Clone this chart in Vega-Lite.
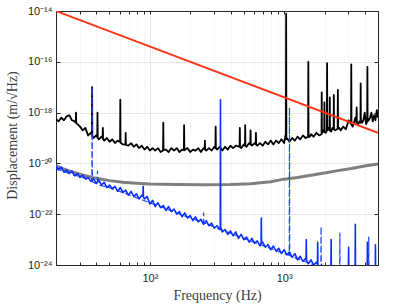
{
"$schema": "https://vega.github.io/schema/vega-lite/v6.json",
"width": 322, "height": 254,
"autosize": {"type": "none"},
"padding": {"left": 56, "top": 11, "right": 37, "bottom": 40},
"background": "white",
"datasets": {
"black": [
{"f":20,"v":5.6e-19},{"f":20.89,"v":4.5e-19},{"f":21.88,"v":6.3e-19},{"f":22.91,"v":5.0e-19},{"f":23.99,"v":7.1e-19},{"f":25.12,"v":7.9e-19},{"f":26.30,"v":5.0e-19},{"f":27.54,"v":4.5e-19},{"f":28.07,"v":4.0e-19},{"f":28.18,"v":1.0e-18},{"f":28.29,"v":4.0e-19},{"f":28.84,"v":3.5e-19},{"f":30.20,"v":2.8e-19},{"f":31.62,"v":2.0e-19},{"f":33.11,"v":2.5e-19},{"f":34.67,"v":1.26e-19},{"f":36.31,"v":1.6e-19},{"f":37.0,"v":1.3e-19},{"f":37.15,"v":1.0e-17},{"f":37.3,"v":1.2e-19},{"f":38.02,"v":1.0e-19},{"f":39.81,"v":1.26e-19},{"f":40.58,"v":1.1e-19},{"f":40.74,"v":1.0e-18},{"f":40.9,"v":1.0e-19},{"f":41.69,"v":8.9e-20},{"f":43.65,"v":1.12e-19},{"f":44.5,"v":1.0e-19},{"f":44.67,"v":2.5e-19},{"f":44.85,"v":9.0e-20},{"f":45.71,"v":7.9e-20},{"f":47.86,"v":1.0e-19},{"f":50.12,"v":7.1e-20},{"f":52.48,"v":8.9e-20},{"f":54.95,"v":6.3e-20},{"f":57.54,"v":7.9e-20},{"f":60.0,"v":7.0e-20},{"f":60.26,"v":3.2e-18},{"f":60.5,"v":6.5e-20},{"f":63.10,"v":5.6e-20},{"f":65.8,"v":5.5e-20},{"f":66.07,"v":1.6e-19},{"f":66.3,"v":5.3e-20},{"f":69.18,"v":5.0e-20},{"f":72.44,"v":6.3e-20},{"f":75.86,"v":4.5e-20},{"f":79.43,"v":5.6e-20},{"f":83.18,"v":4.0e-20},{"f":87.10,"v":5.0e-20},{"f":91.20,"v":3.5e-20},{"f":95.50,"v":4.5e-20},{"f":100,"v":3.2e-20},{"f":104.7,"v":4.0e-20},{"f":109.6,"v":3.2e-20},{"f":114.8,"v":4.0e-20},{"f":120.2,"v":2.8e-20},{"f":125.4,"v":3.2e-20},{"f":125.9,"v":4.0e-19},{"f":126.4,"v":3.4e-20},{"f":131.8,"v":3.5e-20},{"f":138.0,"v":2.8e-20},{"f":144.5,"v":4.0e-20},{"f":151.4,"v":3.2e-20},{"f":158.5,"v":4.0e-20},{"f":166.0,"v":2.8e-20},{"f":173.8,"v":3.5e-20},{"f":179.2,"v":3.3e-20},{"f":179.9,"v":3.2e-19},{"f":180.6,"v":3.3e-20},{"f":190.5,"v":4.0e-20},{"f":199.5,"v":2.8e-20},{"f":208.9,"v":3.5e-20},{"f":218.8,"v":3.2e-20},{"f":229.1,"v":4.0e-20},{"f":239.9,"v":2.8e-20},{"f":251.2,"v":4.0e-20},{"f":256.0,"v":3.6e-20},{"f":257.0,"v":7.9e-20},{"f":258.0,"v":3.6e-20},{"f":263.0,"v":3.2e-20},{"f":275.4,"v":4.0e-20},{"f":288.4,"v":3.2e-20},{"f":302.0,"v":4.5e-20},{"f":307.8,"v":4.0e-20},{"f":309.0,"v":2.8e-19},{"f":310.2,"v":4.0e-20},{"f":316.2,"v":3.5e-20},{"f":331.1,"v":4.5e-20},{"f":346.7,"v":3.2e-20},{"f":363.1,"v":4.5e-20},{"f":380.2,"v":3.5e-20},{"f":398.1,"v":5.0e-20},{"f":416.9,"v":4.0e-20},{"f":436.5,"v":5.0e-20},{"f":465.8,"v":4.5e-20},{"f":467.7,"v":2.5e-19},{"f":469.6,"v":4.5e-20},{"f":478.6,"v":4.0e-20},{"f":501.2,"v":5.6e-20},{"f":510.9,"v":5.0e-20},{"f":512.9,"v":3.2e-19},{"f":514.9,"v":5.0e-20},{"f":524.8,"v":4.5e-20},{"f":549.5,"v":6.3e-20},{"f":560.0,"v":5.6e-20},{"f":562.3,"v":2.0e-19},{"f":564.5,"v":5.6e-20},{"f":575.4,"v":5.0e-20},{"f":602.6,"v":6.3e-20},{"f":614.0,"v":5.6e-20},{"f":616.6,"v":1.6e-19},{"f":619.0,"v":5.6e-20},{"f":631.0,"v":5.0e-20},{"f":660.7,"v":6.3e-20},{"f":691.8,"v":5.0e-20},{"f":724.4,"v":7.1e-20},{"f":758.6,"v":5.6e-20},{"f":794.3,"v":7.9e-20},{"f":831.8,"v":5.6e-20},{"f":871.0,"v":7.9e-20},{"f":912.0,"v":6.3e-20},{"f":955.0,"v":8.9e-20},{"f":1000,"v":6.3e-20},{"f":1023,"v":1.26e-19},{"f":1031,"v":9.0e-20},{"f":1035,"v":7.9e-15},{"f":1039,"v":9.0e-20},{"f":1047,"v":1.0e-19},{"f":1096,"v":7.1e-20},{"f":1148,"v":1.0e-19},{"f":1202,"v":7.9e-20},{"f":1259,"v":1.12e-19},{"f":1318,"v":8.9e-20},{"f":1380,"v":1.26e-19},{"f":1445,"v":1.0e-19},{"f":1508,"v":1.1e-19},{"f":1514,"v":1.0e-16},{"f":1520,"v":1.1e-19},{"f":1549,"v":1.12e-19},{"f":1585,"v":1.4e-19},{"f":1660,"v":1.12e-19},{"f":1738,"v":1.6e-19},{"f":1820,"v":1.26e-19},{"f":1898,"v":1.4e-19},{"f":1905,"v":6.3e-18},{"f":1912,"v":1.5e-19},{"f":1950,"v":2.0e-19},{"f":1988,"v":1.7e-19},{"f":1995,"v":2.5e-18},{"f":2002,"v":1.7e-19},{"f":2042,"v":1.6e-19},{"f":2081,"v":2.0e-19},{"f":2089,"v":8.9e-17},{"f":2097,"v":2.0e-19},{"f":2138,"v":2.5e-19},{"f":2180,"v":2.0e-19},{"f":2188,"v":4.0e-18},{"f":2196,"v":2.0e-19},{"f":2239,"v":1.8e-19},{"f":2291,"v":2.5e-19},{"f":2335,"v":2.2e-19},{"f":2344,"v":5.0e-18},{"f":2353,"v":2.2e-19},{"f":2399,"v":2.0e-19},{"f":2502,"v":2.3e-19},{"f":2512,"v":7.9e-18},{"f":2522,"v":2.3e-19},{"f":2570,"v":2.5e-19},{"f":2630,"v":2.0e-19},{"f":2754,"v":2.8e-19},{"f":2884,"v":2.2e-19},{"f":3020,"v":5.0e-19},{"f":3150,"v":3.5e-19},{"f":3162,"v":7.9e-17},{"f":3174,"v":3.5e-19},{"f":3236,"v":2.8e-19},{"f":3311,"v":4.0e-19},{"f":3388,"v":6.3e-19},{"f":3453,"v":4.0e-19},{"f":3467,"v":1.6e-18},{"f":3481,"v":4.0e-19},{"f":3548,"v":3.2e-19},{"f":3631,"v":4.5e-19},{"f":3700,"v":4.0e-19},{"f":3715,"v":1.4e-17},{"f":3730,"v":4.0e-19},{"f":3802,"v":4.0e-19},{"f":3890,"v":5.0e-19},{"f":3981,"v":1.0e-18},{"f":4074,"v":3.5e-19},{"f":4152,"v":4.5e-19},{"f":4169,"v":6.3e-17},{"f":4186,"v":4.5e-19},{"f":4266,"v":5.0e-19},{"f":4365,"v":6.3e-19},{"f":4467,"v":1.0e-18},{"f":4571,"v":4.5e-19},{"f":4677,"v":7.9e-19},{"f":4786,"v":5.0e-19},{"f":4898,"v":1.26e-18},{"f":5000,"v":6.3e-19}
],
"gray": [
{"f":20,"v":7.9e-21},{"f":25.12,"v":5.0e-21},{"f":31.62,"v":3.5e-21},{"f":37.15,"v":2.8e-21},{"f":50.12,"v":2.1e-21},{"f":63.10,"v":1.82e-21},{"f":79.43,"v":1.66e-21},{"f":100,"v":1.55e-21},{"f":158.5,"v":1.48e-21},{"f":251.2,"v":1.45e-21},{"f":398.1,"v":1.48e-21},{"f":562.3,"v":1.58e-21},{"f":794.3,"v":1.9e-21},{"f":1000,"v":2.4e-21},{"f":1259,"v":2.8e-21},{"f":1585,"v":3.4e-21},{"f":1995,"v":4.2e-21},{"f":2512,"v":5.2e-21},{"f":3162,"v":6.3e-21},{"f":3981,"v":7.9e-21},{"f":5000,"v":9.5e-21}
],
"blue": [
{"f":20,"v":7.9e-21},{"f":20.89,"v":5.6e-21},{"f":21.88,"v":7.1e-21},{"f":22.91,"v":4.5e-21},{"f":23.99,"v":5.6e-21},{"f":25.12,"v":4.0e-21},{"f":26.30,"v":5.0e-21},{"f":27.54,"v":3.2e-21},{"f":28.84,"v":4.0e-21},{"f":30.20,"v":2.8e-21},{"f":31.62,"v":3.5e-21},{"f":33.11,"v":2.5e-21},{"f":34.67,"v":2.8e-21},{"f":36.31,"v":2.0e-21},{"f":38.02,"v":2.5e-21},{"f":39.81,"v":1.6e-21},{"f":41.69,"v":2.2e-21},{"f":43.65,"v":1.4e-21},{"f":45.71,"v":1.8e-21},{"f":47.86,"v":1.12e-21},{"f":50.12,"v":1.4e-21},{"f":52.48,"v":1.0e-21},{"f":54.95,"v":1.26e-21},{"f":57.54,"v":7.9e-22},{"f":60.26,"v":1.12e-21},{"f":63.10,"v":7.1e-22},{"f":66.07,"v":8.9e-22},{"f":69.18,"v":5.6e-22},{"f":72.44,"v":7.9e-22},{"f":75.86,"v":5.0e-22},{"f":79.43,"v":6.3e-22},{"f":83.18,"v":4.0e-22},{"f":87.10,"v":5.6e-22},{"f":88.8,"v":5.0e-22},{"f":89.13,"v":1.26e-21},{"f":89.5,"v":4.8e-22},{"f":91.20,"v":4.0e-22},{"f":95.50,"v":5.0e-22},{"f":100,"v":2.5e-22},{"f":104.7,"v":3.5e-22},{"f":109.6,"v":2.0e-22},{"f":114.8,"v":2.8e-22},{"f":120.2,"v":1.8e-22},{"f":125.9,"v":2.2e-22},{"f":131.8,"v":1.4e-22},{"f":138.0,"v":2.0e-22},{"f":144.5,"v":1.26e-22},{"f":151.4,"v":1.6e-22},{"f":158.5,"v":1.0e-22},{"f":166.0,"v":1.26e-22},{"f":173.8,"v":7.9e-23},{"f":182.0,"v":1.12e-22},{"f":190.5,"v":7.1e-23},{"f":199.5,"v":8.9e-23},{"f":208.9,"v":5.6e-23},{"f":218.8,"v":7.9e-23},{"f":229.1,"v":5.0e-23},{"f":239.9,"v":6.3e-23},{"f":251.2,"v":4.0e-23},{"f":263.0,"v":5.6e-23},{"f":275.4,"v":3.5e-23},{"f":288.4,"v":4.5e-23},{"f":302.0,"v":2.8e-23},{"f":316.2,"v":3.5e-23},{"f":331.1,"v":2.5e-23},{"f":334.4,"v":2.6e-23},{"f":335.7,"v":3.2e-18},{"f":337.0,"v":2.6e-23},{"f":338.8,"v":2.8e-23},{"f":346.7,"v":2.0e-23},{"f":363.1,"v":2.5e-23},{"f":380.2,"v":1.6e-23},{"f":398.1,"v":2.2e-23},{"f":416.9,"v":1.4e-23},{"f":436.5,"v":2.0e-23},{"f":457.1,"v":1.12e-23},{"f":478.6,"v":1.6e-23},{"f":501.2,"v":1.0e-23},{"f":524.8,"v":1.26e-23},{"f":549.5,"v":7.9e-24},{"f":575.4,"v":1.12e-23},{"f":602.6,"v":7.1e-24},{"f":631.0,"v":8.9e-24},{"f":660.7,"v":5.6e-24},{"f":673.4,"v":7.0e-24},{"f":676.1,"v":7.1e-23},{"f":678.8,"v":7.0e-24},{"f":691.8,"v":7.9e-24},{"f":724.4,"v":5.0e-24},{"f":758.6,"v":6.3e-24},{"f":794.3,"v":4.0e-24},{"f":831.8,"v":5.6e-24},{"f":871.0,"v":3.5e-24},{"f":912.0,"v":4.5e-24},{"f":955.0,"v":2.8e-24},{"f":1000,"v":4.0e-24},{"f":1047,"v":2.5e-24},{"f":1096,"v":3.2e-24},{"f":1148,"v":2.0e-24},{"f":1202,"v":2.8e-24},{"f":1259,"v":1.6e-24},{"f":1318,"v":2.2e-24},{"f":1380,"v":1.4e-24},{"f":1445,"v":1.8e-24},{"f":1456,"v":1.6e-24},{"f":1462,"v":1.0e-23},{"f":1468,"v":1.6e-24},{"f":1479,"v":1.4e-24},{"f":1514,"v":1.12e-24},{"f":1585,"v":1.6e-24},{"f":1660,"v":1.0e-24},{"f":1738,"v":1.26e-24},{"f":1771,"v":1.1e-24},{"f":1778,"v":7.9e-24},{"f":1785,"v":1.0e-24},{"f":1820,"v":7.9e-25},{"f":1905,"v":1.0e-24},{"f":1995,"v":6.3e-25},{"f":2188,"v":5.0e-25},{"f":2230,"v":5.0e-25},{"f":2239,"v":1.0e-23},{"f":2248,"v":5.0e-25},{"f":2291,"v":5.0e-25},{"f":2951,"v":4.0e-25},{"f":3008,"v":4.0e-25},{"f":3020,"v":5.0e-24},{"f":3032,"v":4.0e-25},{"f":3090,"v":4.0e-25},{"f":3311,"v":3.2e-25},{"f":3375,"v":3.2e-25},{"f":3388,"v":4.0e-23},{"f":3401,"v":3.2e-25},{"f":3467,"v":3.2e-25},{"f":4074,"v":3.2e-25},{"f":4152,"v":3.2e-25},{"f":4169,"v":7.9e-24},{"f":4186,"v":3.2e-25},{"f":4266,"v":3.2e-25},{"f":4677,"v":3.2e-25},{"f":4767,"v":3.2e-25},{"f":4786,"v":6.3e-24},{"f":4805,"v":3.2e-25},{"f":4898,"v":3.2e-25}
],
"bluedash": [
{"f":20,"v":6.3e-21},{"f":25.12,"v":4.0e-21},{"f":31.62,"v":2.8e-21},{"f":36.31,"v":2.0e-21},{"f":37.0,"v":1.9e-21},{"f":37.15,"v":1.0e-17},{"f":37.3,"v":1.9e-21},{"f":38.02,"v":1.8e-21},{"f":39.81,"v":1.6e-21},{"f":40.58,"v":1.55e-21},{"f":40.74,"v":5.0e-21},{"f":40.9,"v":1.5e-21},{"f":41.69,"v":1.4e-21},{"f":50.12,"v":1.12e-21},{"f":63.10,"v":7.1e-22},{"f":79.43,"v":4.5e-22},{"f":100,"v":2.8e-22},{"f":125.9,"v":1.8e-22},{"f":158.5,"v":1.12e-22},{"f":199.5,"v":7.1e-23},{"f":245.5,"v":5.0e-23},{"f":250.2,"v":4.8e-23},{"f":251.2,"v":1.12e-22},{"f":252.2,"v":4.8e-23},{"f":257.0,"v":4.5e-23},{"f":316.2,"v":2.8e-23},{"f":398.1,"v":1.8e-23},{"f":501.2,"v":1.12e-23},{"f":631.0,"v":7.1e-24},{"f":794.3,"v":4.5e-24},{"f":1000,"v":2.8e-24},{"f":1072,"v":2.5e-24},{"f":1092,"v":2.4e-24},{"f":1096,"v":1.6e-18},{"f":1100,"v":2.4e-24},{"f":1122,"v":2.2e-24},{"f":1413,"v":1.4e-24},{"f":1862,"v":7.9e-25},{"f":1877,"v":7.0e-25},{"f":1884,"v":3.2e-23},{"f":1891,"v":7.0e-25},{"f":1905,"v":6.3e-25},{"f":2570,"v":4.0e-25},{"f":2590,"v":4.0e-25},{"f":2600,"v":1.8e-23},{"f":2610,"v":4.0e-25},{"f":2630,"v":4.0e-25},{"f":4169,"v":4.0e-25},{"f":4249,"v":4.0e-25},{"f":4266,"v":1.26e-23},{"f":4283,"v":4.0e-25},{"f":4365,"v":4.0e-25},{"f":5000,"v":3.2e-25}
],
"red": [{"f":20,"v":1e-14},{"f":5000,"v":1.6e-19}]
},
"config": {
"view": {"stroke": null},
"axis": {"labelFont": "Liberation Sans", "labelFontSize": 11, "labelColor": "#262626", "titleFont": "Liberation Serif", "titleFontSize": 14, "titleFontWeight": "normal", "titleColor": "#404040", "domainColor": "#262626", "tickColor": "#262626", "gridColor": "#dcdcdc", "gridOpacity": 1, "gridWidth": 0.7}
},
"resolve": {"axis": {"x": "independent", "y": "independent"}},
"layer": [
{
"layer": [
{"data": {"name": "black"}, "mark": {"type": "line", "color": "#000000", "strokeWidth": 1.8, "clip": true, "strokeJoin": "round"}},
{"data": {"name": "gray"}, "mark": {"type": "line", "color": "#7f7f7f", "strokeWidth": 3, "clip": true}},
{"data": {"name": "bluedash"}, "mark": {"type": "line", "color": "#1f45ff", "strokeWidth": 1.2, "strokeDash": [6, 3], "clip": true, "strokeJoin": "round"}},
{"data": {"name": "blue"}, "mark": {"type": "line", "color": "#0a30ff", "strokeWidth": 1.6, "clip": true, "strokeJoin": "round"}},
{"data": {"name": "red"}, "mark": {"type": "line", "color": "#ff3311", "strokeWidth": 1.8, "clip": true}}
],
"encoding": {
"x": {"field": "f", "type": "quantitative", "scale": {"type": "log", "domain": [20, 5000], "nice": false},
"axis": {"orient": "bottom", "title": "Frequency (Hz)", "values": [20,30,40,50,60,70,80,90,100,200,300,400,500,600,700,800,900,1000,2000,3000,4000,5000],
"labelExpr": "datum.value == 100 ? '10²' : datum.value == 1000 ? '10³' : ''",
"tickSize": -3, "labelPadding": 10, "labelFlush": false, "labelOverlap": false,
"gridDash": {"condition": {"test": "datum.value == 100 || datum.value == 1000", "value": []}, "value": [1, 2]},
"titleY": 30, "titleBaseline": "middle"}},
"y": {"field": "v", "type": "quantitative", "scale": {"type": "log", "domain": [1e-24, 1e-14], "nice": false},
"axis": {"orient": "left", "title": "Displacement (m/√Hz)", "values": [1e-24,1e-22,1e-20,1e-18,1e-16,1e-14],
"labelExpr": "'10' + (round(log(datum.value)/LN10) == -14 ? '⁻¹⁴' : round(log(datum.value)/LN10) == -16 ? '⁻¹⁶' : round(log(datum.value)/LN10) == -18 ? '⁻¹⁸' : round(log(datum.value)/LN10) == -20 ? '⁻²⁰' : round(log(datum.value)/LN10) == -22 ? '⁻²²' : '⁻²⁴')",
"tickSize": -4, "labelPadding": 8, "labelOverlap": false, "labelFlush": false,
"titleX": -44, "titleY": 124, "titleAngle": 270, "titleAlign": "center", "titleBaseline": "middle"}}
}
},
{
"data": {"name": "red"},
"mark": {"type": "point", "opacity": 0},
"encoding": {
"x": {"field": "f", "type": "quantitative", "scale": {"type": "log", "domain": [20, 5000], "nice": false},
"axis": {"orient": "top", "title": null, "labels": false, "grid": false, "tickSize": -3, "values": [20,30,40,50,60,70,80,90,100,200,300,400,500,600,700,800,900,1000,2000,3000,4000,5000]}},
"y": {"field": "v", "type": "quantitative", "scale": {"type": "log", "domain": [1e-24, 1e-14], "nice": false},
"axis": {"orient": "right", "title": null, "labels": false, "grid": false, "tickSize": -4, "values": [1e-24,1e-22,1e-20,1e-18,1e-16,1e-14]}}
}
}
]
}
